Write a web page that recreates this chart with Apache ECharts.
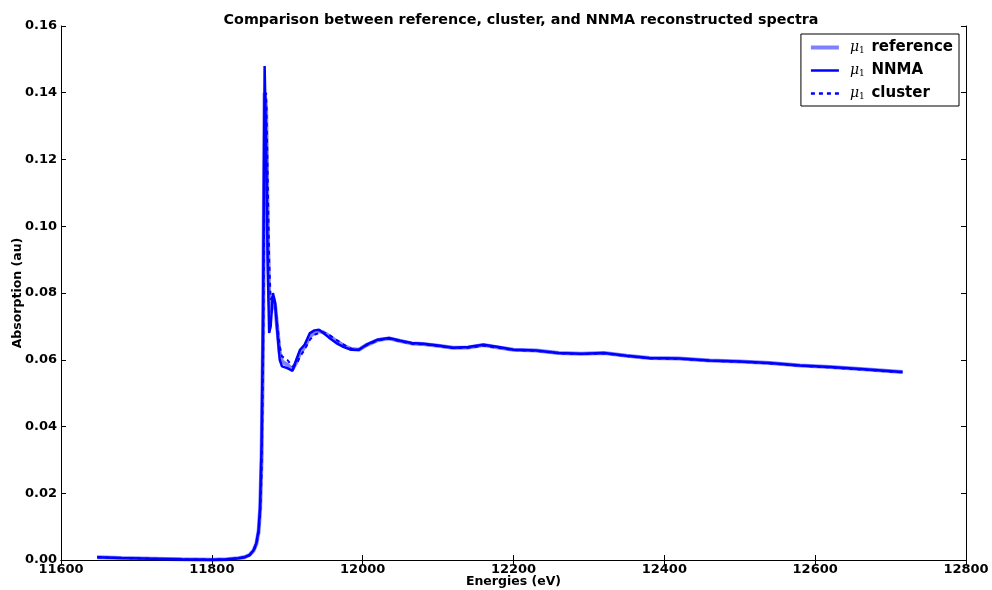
<!DOCTYPE html>
<html>
<head>
<meta charset="utf-8">
<script src="https://cdn.jsdelivr.net/npm/echarts@6/dist/echarts.min.js"></script>
<style>html,body{margin:0;padding:0;background:#fff;}#c{width:992px;height:590px;}</style>
</head>
<body>
<div id="c"></div>
<script>
const energies = [11648,11680,11720,11760,11800,11820,11835,11843,11850,11855,11859,11862,11864,11866,11868,11870,11872,11874,11876,11878,11881,11884,11887,11890,11893,11900,11907,11912,11917,11923,11930,11936,11942,11948,11955,11965,11975,11985,11995,12005,12020,12035,12050,12065,12080,12100,12120,12140,12160,12180,12200,12230,12260,12290,12320,12350,12380,12420,12460,12500,12540,12580,12620,12660,12716];
const nnma = [0.0008,0.0006,0.0004,0.0002,0.0001,0.0002,0.0005,0.0008,0.0015,0.0028,0.005,0.009,0.016,0.035,0.075,0.148,0.125,0.090,0.068,0.070,0.080,0.077,0.068,0.060,0.058,0.0575,0.0567,0.0600,0.0630,0.0645,0.0680,0.0688,0.0690,0.0680,0.0667,0.0650,0.0638,0.0630,0.0630,0.0645,0.0660,0.0665,0.0657,0.0650,0.0648,0.0643,0.0636,0.0638,0.0645,0.0638,0.0630,0.0628,0.0620,0.0618,0.0620,0.0612,0.0605,0.0604,0.0598,0.0595,0.0590,0.0583,0.0578,0.0572,0.0563];
const cluster = [0.0008,0.0006,0.0004,0.0002,0.0001,0.0002,0.0005,0.0008,0.0014,0.0026,0.0045,0.008,0.014,0.026,0.060,0.128,0.140,0.115,0.090,0.078,0.079,0.076,0.070,0.064,0.061,0.0600,0.0580,0.0585,0.0610,0.0630,0.0660,0.0675,0.0680,0.0682,0.0675,0.0660,0.0645,0.0633,0.0630,0.0643,0.0658,0.0663,0.0655,0.0648,0.0646,0.0641,0.0635,0.0636,0.0642,0.0636,0.0629,0.0627,0.0619,0.0617,0.0619,0.0611,0.0604,0.0603,0.0597,0.0594,0.0589,0.0582,0.0577,0.0571,0.0562];
const reference = [0.0008,0.0006,0.0004,0.0002,0.0001,0.0002,0.0005,0.0008,0.0015,0.0027,0.0048,0.0085,0.015,0.031,0.068,0.140,0.135,0.102,0.078,0.074,0.079,0.076,0.069,0.062,0.0595,0.0585,0.0572,0.0592,0.0620,0.0638,0.0670,0.0682,0.0686,0.0682,0.0672,0.0656,0.0642,0.0632,0.0630,0.0644,0.0659,0.0664,0.0656,0.0649,0.0647,0.0642,0.0636,0.0637,0.0644,0.0637,0.0630,0.0628,0.0620,0.0618,0.0620,0.0612,0.0605,0.0604,0.0598,0.0595,0.0590,0.0583,0.0578,0.0572,0.0563];
const xTicks = [11600,11800,12000,12200,12400,12600,12800];
const yTicks = [0.00,0.02,0.04,0.06,0.08,0.10,0.12,0.14,0.16];

const pair = arr => energies.map((e,i)=>[e,arr[i]]);
const F = 'DejaVu Sans';
const chart = echarts.init(document.getElementById('c'), null, {renderer:'canvas'});
const axLine = {show:true, lineStyle:{color:'#000', width:1}};
const tick = {show:true, inside:true, length:5, lineStyle:{color:'#000'}};
chart.setOption({
  animation:false,
  backgroundColor:'#fff',
  title:{text:'Comparison between reference, cluster, and NNMA reconstructed spectra', left:516, top:8, textAlign:'center',
    textStyle:{fontFamily:F, fontWeight:'bold', fontSize:14.3, color:'#000'}},
  grid:{left:61, right:26, top:26, bottom:30, containLabel:false, outerBoundsMode:'none'},
  legend:{right:33, top:34, orient:'vertical', borderColor:'#000', borderWidth:1, padding:[6,6,5,8], itemGap:8,
    itemWidth:28, itemHeight:10, backgroundColor:'#fff',
    itemStyle:{opacity:0},
    data:[
      {name:'reference', lineStyle:{width:4, color:'rgba(0,0,255,0.5)'}},
      {name:'NNMA', lineStyle:{width:2.5, color:'#0000ff'}},
      {name:'cluster', lineStyle:{width:2.5, color:'#0000ff', type:[4,4]}}
    ],
    formatter: n => '{mu|μ}{sub|1}  {b|'+n+'}',
    textStyle:{rich:{
      mu:{fontFamily:'DejaVu Serif', fontStyle:'italic', fontSize:14, color:'#000', padding:[0,0,0,6]},
      sub:{fontFamily:'DejaVu Serif', fontSize:9, color:'#000', verticalAlign:'bottom', padding:[6,0,0,0]},
      b:{fontFamily:F, fontWeight:'bold', fontSize:15, color:'#000'}
    }}},
  xAxis:[
    {type:'value', min:11600, max:12800, interval:200, position:'bottom',
     name:'Energies (eV)', nameLocation:'middle', nameGap:15, nameMoveOverlap:false,
     nameTextStyle:{fontFamily:F, fontWeight:'bold', fontSize:12.5, color:'#000'},
     axisLine:axLine, axisTick:tick, splitLine:{show:false},
     axisLabel:{fontFamily:F, fontWeight:'bold', fontSize:13, color:'#000', margin:3, formatter:v=>String(v)}},
    {type:'value', min:11600, max:12800, interval:200, position:'top',
     axisLine:axLine, axisTick:tick, splitLine:{show:false}, axisLabel:{show:false}}
  ],
  yAxis:[
    {type:'value', min:0, max:0.16, interval:0.02, position:'left',
     name:'Absorption (au)', nameLocation:'middle', nameGap:37, nameRotate:90, nameMoveOverlap:false,
     nameTextStyle:{fontFamily:F, fontWeight:'bold', fontSize:12.5, color:'#000'},
     axisLine:axLine, axisTick:tick, splitLine:{show:false},
     axisLabel:{fontFamily:F, fontWeight:'bold', fontSize:13, color:'#000', margin:4, formatter:v=>v.toFixed(2)}},
    {type:'value', min:0, max:0.16, interval:0.02, position:'right',
     axisLine:axLine, axisTick:tick, splitLine:{show:false}, axisLabel:{show:false}}
  ],
  series:[
    {name:'reference', type:'line', data:pair(reference), showSymbol:false, symbol:'none', z:2,
     lineStyle:{color:'rgba(0,0,255,0.5)', width:4}, itemStyle:{color:'rgba(0,0,255,0.5)'}},
    {name:'NNMA', type:'line', data:pair(nnma), showSymbol:false, symbol:'none', z:3,
     lineStyle:{color:'#0000ff', width:2.5}, itemStyle:{color:'#0000ff'}},
    {name:'cluster', type:'line', data:pair(cluster), showSymbol:false, symbol:'none', z:4,
     lineStyle:{color:'#0000ff', width:2, type:[4,4]}, itemStyle:{color:'#0000ff'}}
  ]
});
</script>
</body>
</html>
